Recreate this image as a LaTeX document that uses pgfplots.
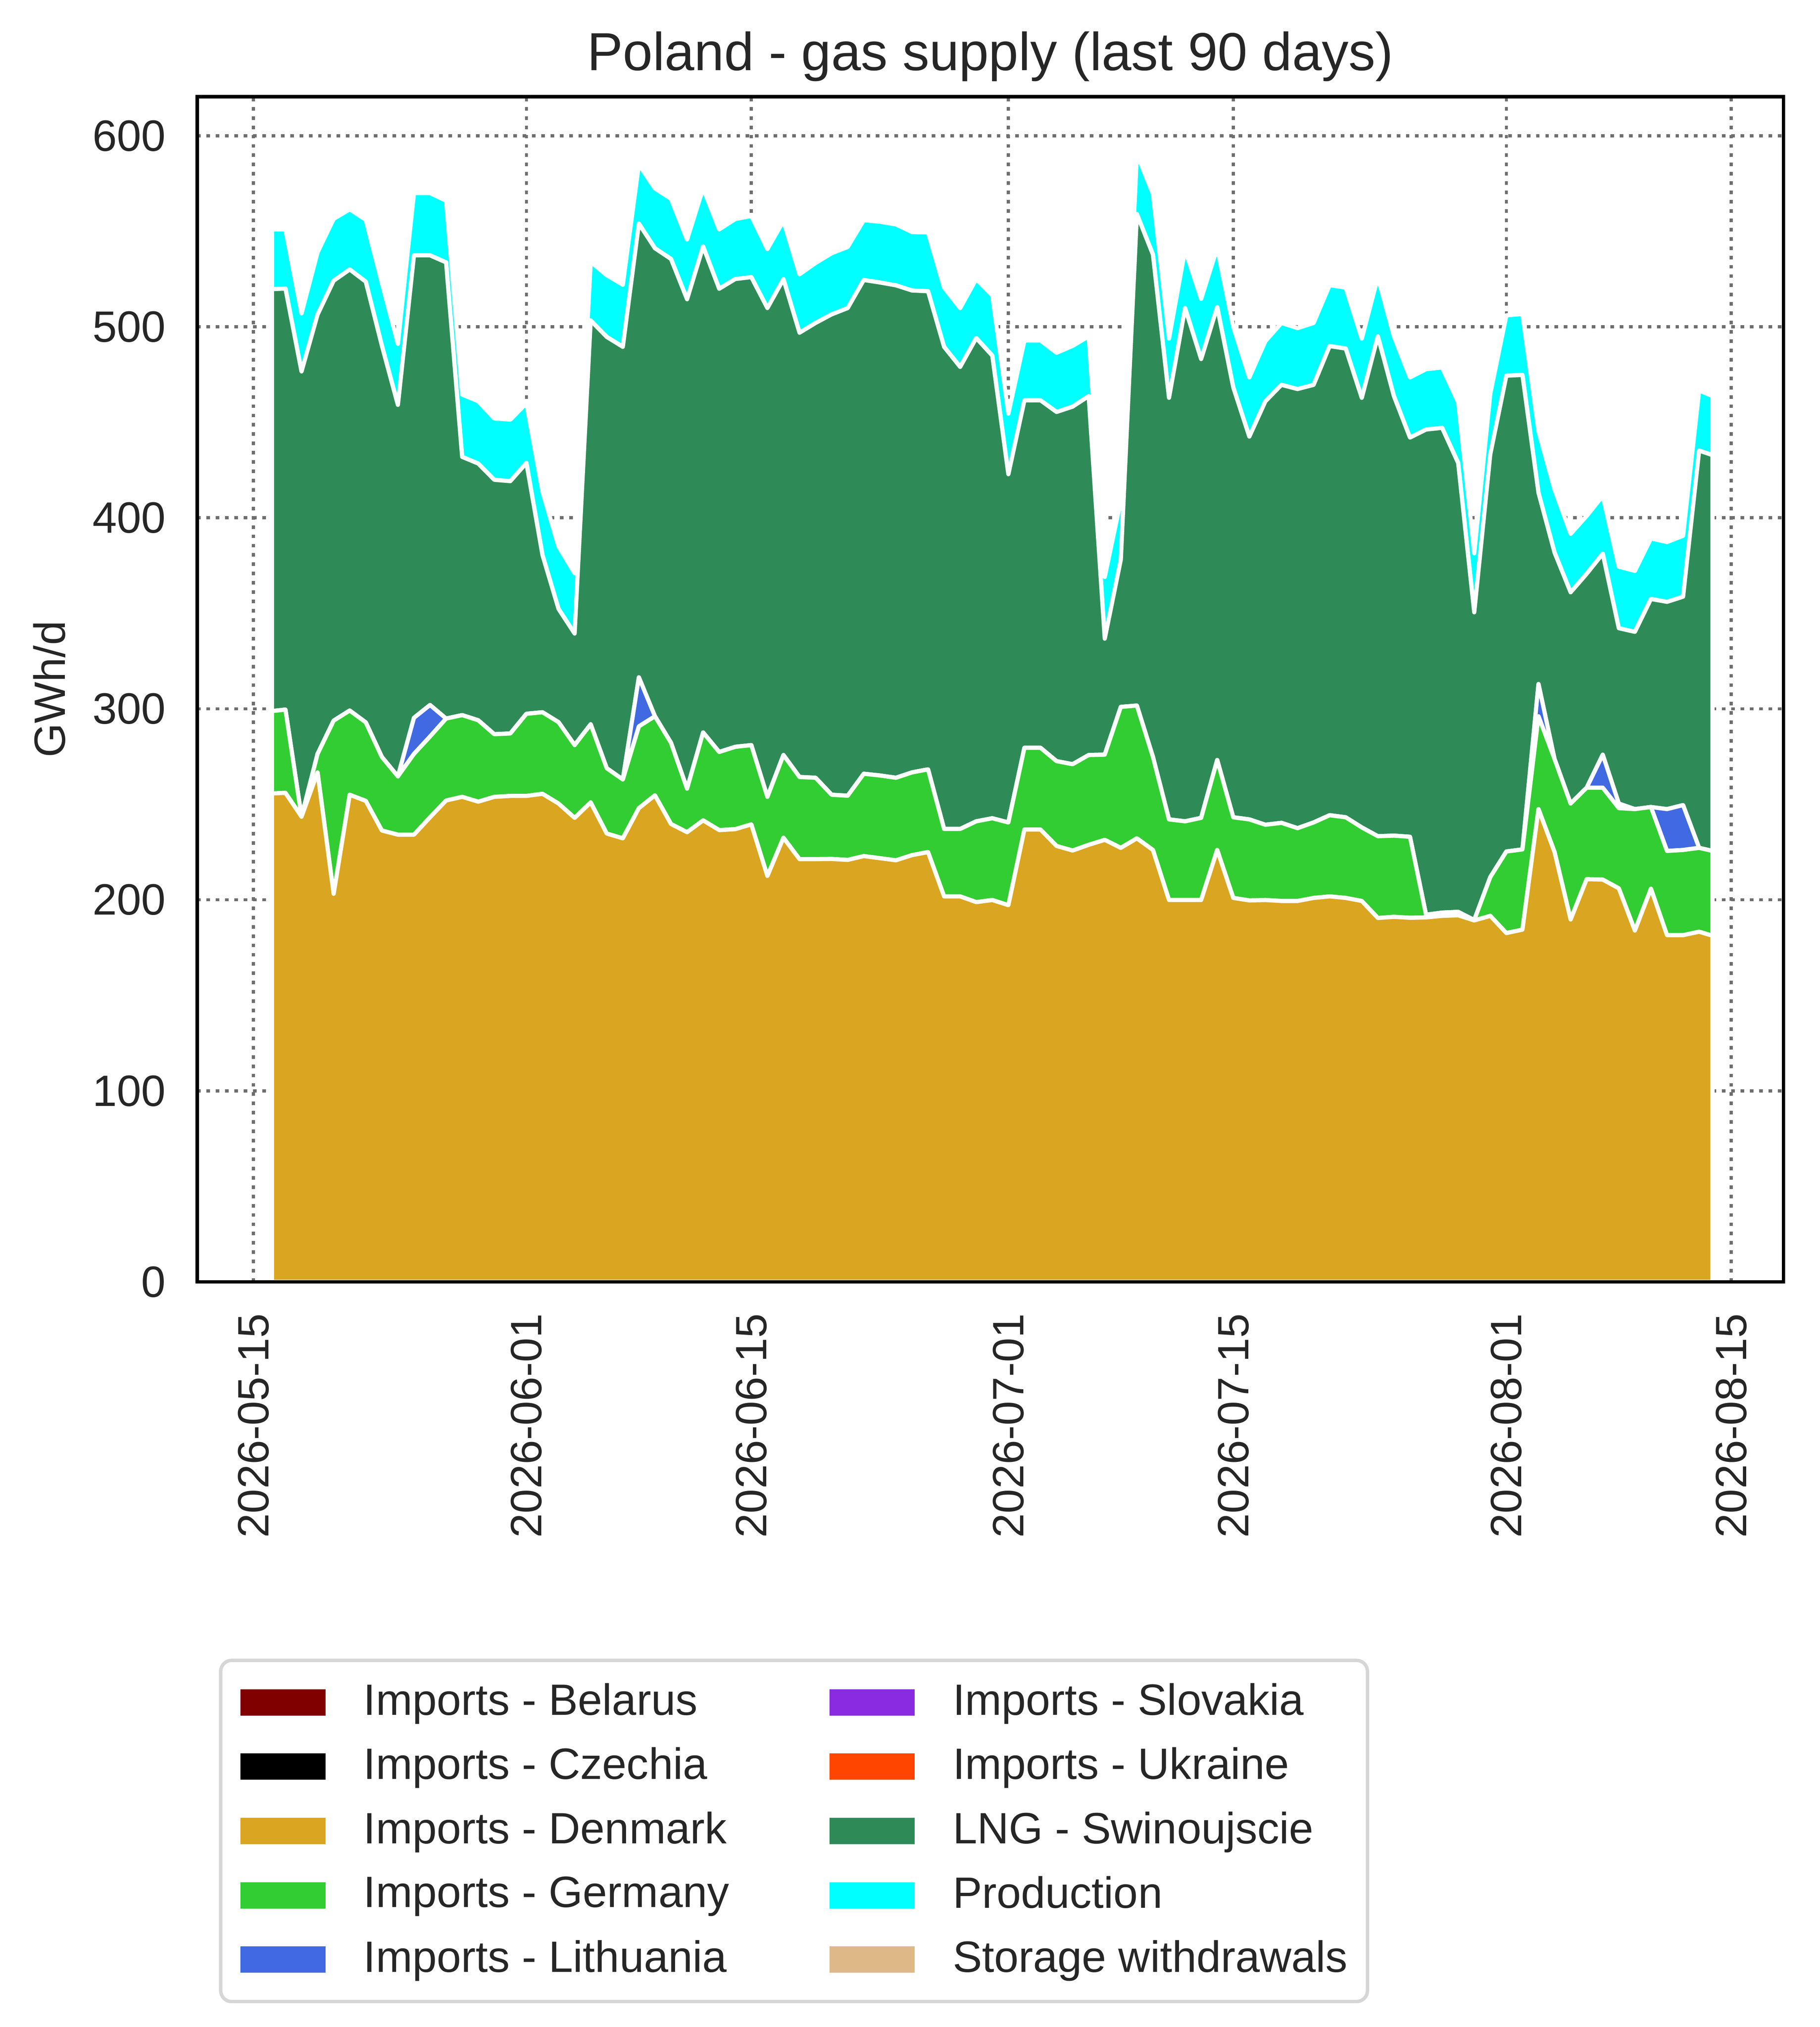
\documentclass[border=0pt]{standalone}
\usepackage{fontspec}
\setmainfont{Liberation Sans}
\usepackage{pgfplots}
\usepackage{pgfplotstable}
\pgfplotsset{compat=1.18}
\definecolor{cDen}{RGB}{218,165,32}
\definecolor{cGer}{RGB}{50,205,50}
\definecolor{cLit}{RGB}{65,105,225}
\definecolor{cLNG}{RGB}{46,139,87}
\definecolor{cPro}{RGB}{0,255,255}
\definecolor{cBel}{RGB}{128,0,0}
\definecolor{cCze}{RGB}{0,0,0}
\definecolor{cSlo}{RGB}{138,43,226}
\definecolor{cUkr}{RGB}{255,69,0}
\definecolor{cSto}{RGB}{222,184,135}
\definecolor{cText}{RGB}{38,38,38}
\definecolor{cGrid}{RGB}{110,110,110}
\definecolor{cLeg}{RGB}{214,214,214}
\pgfplotsset{lgd/.style={legend image code/.code={\fill[##1, draw=none, sharp corners] (0pt,-3pt) rectangle (19.4pt,3pt);}}}
\pgfplotstableread{
x D Ge Li LNG P
1.16 255.7 43.1 0 220.9 31.3
2 256.0 43.6 0 220.4 31.0
3 243.5 0 0 233.1 30.4
4 266.7 9.7 0 230.0 32.6
5 203.1 90.7 0 230.3 32.4
6 255.0 44.1 0 230.9 31.5
7 251.8 41.1 0 230.7 32.4
8 236.3 38.5 0 215.4 32.8
9 234.1 30.5 0 194.5 31.9
10 234.1 42.3 18.9 242.1 32.6
11 243.2 42.3 16.5 235.4 32.6
12 252.0 42.9 0 238.8 32.3
13 253.9 42.8 0 135.2 32.6
14 251.4 42.6 0 134.4 32.6
15 253.9 32.8 0 133.2 32.1
16 254.4 32.7 0 132.1 32.2
17 254.4 43.0 0 131.3 31.3
18 255.5 42.7 0 82.3 33.2
19 250.4 42.6 0 59.3 32.7
20 242.9 38.1 0 58.4 31.6
21 251.0 40.9 0 211.4 30.7
22 234.7 34.2 0 225.8 32.3
23 232.2 30.8 0 226.5 32.5
24 248.0 42.8 25.7 237.5 31.0
25 254.7 41.4 0 245.0 31.3
26 239.7 42.5 0 253.3 31.5
27 235.4 22.8 0 256.2 31.3
28 241.6 46.0 0 254.4 30.5
29 236.5 40.9 0 242.5 31.1
30 237.0 43.1 0 244.9 31.4
31 239.5 41.5 0 245.0 32.0
32 212.5 41.4 0 255.9 30.9
33 232.5 43.3 0 249.1 30.5
34 221.3 43.0 0 232.6 30.6
35 221.3 42.6 0 238.1 31.4
36 221.4 33.6 0 251.5 32.0
37 220.9 33.6 0 255.3 32.0
38 222.9 43.1 0 258.5 31.3
39 221.8 43.3 0 258.1 31.8
40 220.7 43.2 0 257.8 31.9
41 223.4 43.3 0 252.3 30.6
42 225.0 43.3 0 250.3 30.8
43 201.8 35.3 0 252.4 31.0
44 201.8 35.3 0 241.9 30.8
45 198.8 42.3 0 253.0 30.9
46 199.9 42.8 0 242.2 31.5
47 197.2 43.3 0 182.3 31.7
48 236.8 42.8 0 181.9 31.3
49 236.8 42.8 0 181.9 31.3
50 228.2 44.4 0 182.8 31.0
51 225.8 45.2 0 187.2 31.8
52 228.8 47.0 0 187.9 31.3
53 231.4 44.6 0 60.7 32.3
54 227.2 73.8 0 77.1 31.0
55 232.2 69.5 0 257.3 31.5
56 226.1 48.7 0 263.0 31.8
57 199.9 42.2 0 220.7 31.0
58 199.9 41.2 0 268.7 30.5
59 199.9 43.0 0 240.2 31.5
60 226.1 47.1 0 237.1 31.0
61 201.0 42.2 0 225.1 31.7
62 199.7 42.4 0 200.4 31.0
63 199.9 39.4 0 221.7 31.5
64 199.4 40.9 0 229.3 32.4
65 199.4 38.1 0 229.9 31.9
66 201.0 39.5 0 229.1 32.4
67 201.8 42.5 0 245.6 31.9
68 201.0 42.2 0 245.4 31.9
69 199.4 38.5 0 224.9 31.0
70 190.5 42.8 0 261.7 31.0
71 191.1 42.5 0 230.1 31.3
72 190.6 42.4 0 209.0 31.5
73 190.8 1.4 0 254.0 31.6
74 191.6 1.7 0 253.8 31.6
75 191.9 1.8 0 235.0 31.9
76 189.2 0.2 0 161.1 30.9
77 191.6 20.3 0 221.4 31.7
78 182.6 42.7 0 249.1 31.6
79 184.4 42.0 0 248.4 31.9
80 247.5 48.6 16.9 100.1 32.2
81 225.0 48.7 0 108.1 33.0
82 189.7 60.7 0 110.6 30.6
83 210.8 47.9 0 112.0 30.3
84 210.6 48.1 17.3 105.2 30.3
85 206.0 42.0 2.4 91.8 32.2
86 183.9 63.6 0 92.8 31.9
87 205.8 42.8 0 108.9 31.7
88 181.5 44.1 21.9 108.5 31.3
89 181.5 44.6 23.5 109.1 31.9
90 183.3 43.9 0 208.0 31.5
90.83 181.2 44.4 0 207.2 30.9
}\gasdata
\begin{document}
\begin{tikzpicture}
\useasboundingbox (-44.98pt,-169.93pt) rectangle (369.97pt,292.33pt);
\begin{axis}[
  name=ax,
  at={(0pt,0pt)}, anchor=south west,
  scale only axis, width=361.7pt, height=270.3pt,
  xmin=-3.49, xmax=95.25, ymin=0, ymax=620.5,
  xtick={0,17,31,47,61,78,92},
  xticklabels={2026-05-15,2026-06-01,2026-06-15,2026-07-01,2026-07-15,2026-08-01,2026-08-15},
  ytick={0,100,200,300,400,500,600},
  major tick length=0pt,
  grid=major,
  major grid style={line width=0.7pt, color=cGrid, dash pattern=on 0.82pt off 1.3pt},
  axis line style={line width=0.8pt, black},
  /pgf/number format/assume math mode=true,
  tick label style={font=\fontsize{10}{12}\selectfont, text=cText},
  xticklabel style={rotate=90, anchor=east, inner sep=0pt},
  yticklabel style={anchor=east, inner sep=0pt},
  xticklabel shift=7pt, yticklabel shift=7pt,
  ylabel={GWh/d},
  every axis y label/.style={at={(axis description cs:-0.08333,0.5)}, rotate=90, anchor=base, font=\fontsize{10}{12}\selectfont, text=cText},
  title={Poland - gas supply (last 90 days)},
  every axis title/.style={at={(axis description cs:0.5,1)}, anchor=base, yshift=6pt, font=\fontsize{12.2}{14}\selectfont, text=cText},
  stack plots=y,
  legend columns=2,
  legend cell align=left,
  legend style={at={(axis description cs:0.0137,-0.3179)}, anchor=north west,
    draw=cLeg, line width=0.78pt, rounded corners=2.5pt, fill=white,
    font=\fontsize{10}{12}\selectfont, text=cText,
    inner xsep=4.5pt, inner ysep=5.2pt, row sep=5.92pt,
    nodes={inner sep=0pt},
    /tikz/every odd column/.append style={column sep=8.7pt},
    /tikz/every even column/.append style={column sep=22.9pt}},
]
\addplot[fill=cDen, draw=white, line width=0.95pt, line join=round, forget plot] table[x=x,y=D]{\gasdata} \closedcycle;
\addplot[fill=cGer, draw=white, line width=0.95pt, line join=round, forget plot] table[x=x,y=Ge]{\gasdata} \closedcycle;
\addplot[fill=cLit, draw=white, line width=0.95pt, line join=round, forget plot] table[x=x,y=Li]{\gasdata} \closedcycle;
\addplot[fill=cLNG, draw=white, line width=0.95pt, line join=round, forget plot] table[x=x,y=LNG]{\gasdata} \closedcycle;
\addplot[fill=cPro, draw=white, line width=0.95pt, line join=round, forget plot] table[x=x,y=P]{\gasdata} \closedcycle;
\addlegendimage{lgd, fill=cBel}
\addlegendentry{Imports - Belarus}
\addlegendimage{lgd, fill=cSlo}
\addlegendentry{Imports - Slovakia}
\addlegendimage{lgd, fill=cCze}
\addlegendentry{Imports - Czechia}
\addlegendimage{lgd, fill=cUkr}
\addlegendentry{Imports - Ukraine}
\addlegendimage{lgd, fill=cDen}
\addlegendentry{Imports - Denmark}
\addlegendimage{lgd, fill=cLNG}
\addlegendentry{LNG - Swinoujscie}
\addlegendimage{lgd, fill=cGer}
\addlegendentry{Imports - Germany}
\addlegendimage{lgd, fill=cPro}
\addlegendentry{Production}
\addlegendimage{lgd, fill=cLit}
\addlegendentry{Imports - Lithuania}
\addlegendimage{lgd, fill=cSto}
\addlegendentry{Storage withdrawals}
\end{axis}
\draw[black, line width=0.8pt] (ax.south west) rectangle (ax.north east);
\end{tikzpicture}
\end{document}
